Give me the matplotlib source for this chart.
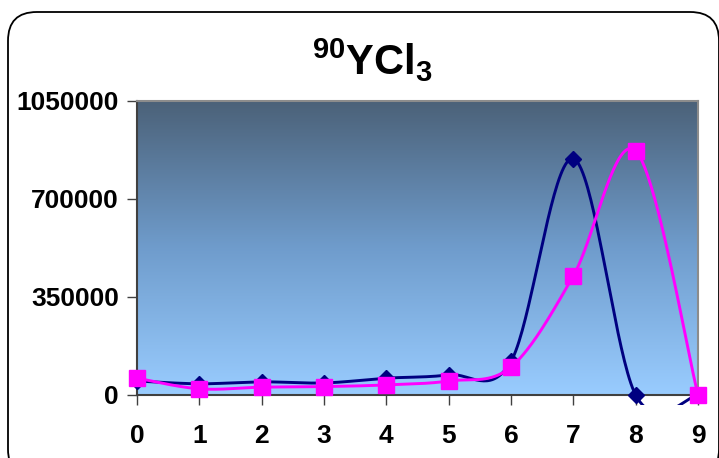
import numpy as np
import matplotlib
matplotlib.use("Agg")
import matplotlib.pyplot as plt
from matplotlib.patches import FancyBboxPatch, Rectangle
from matplotlib.colors import LinearSegmentedColormap

plt.rcParams['font.family'] = ['Liberation Sans', 'DejaVu Sans']
plt.rcParams['mathtext.fontset'] = 'custom'
plt.rcParams['mathtext.rm'] = 'Liberation Sans:bold'
plt.rcParams['mathtext.bf'] = 'Liberation Sans:bold'

# data
fractions = [0, 1, 2, 3, 4, 5, 6, 7, 8, 9]
series_navy = [50000, 40000, 47000, 43000, 60000, 72000, 120000, 843000, 0, 0]
series_magenta = [60000, 22000, 28000, 30000, 36000, 50000, 100000, 425000, 871000, 0]
y_ticks = [0, 350000, 700000, 1050000]


def smooth(x, y, n=40):
    # Excel-style smoothed line: cubic bezier with catmull-rom tangents
    x = np.asarray(x, float)
    y = np.asarray(y, float)
    xs, ys = [], []
    for i in range(len(x) - 1):
        p0 = np.array([x[max(i - 1, 0)], y[max(i - 1, 0)]])
        p1 = np.array([x[i], y[i]])
        p2 = np.array([x[i + 1], y[i + 1]])
        p3 = np.array([x[min(i + 2, len(x) - 1)], y[min(i + 2, len(x) - 1)]])
        c1 = p1 + (p2 - p0) / 6
        c2 = p2 - (p3 - p1) / 6
        t = np.linspace(0, 1, n)[:, None]
        pts = ((1 - t) ** 3) * p1 + 3 * ((1 - t) ** 2) * t * c1 + 3 * (1 - t) * t ** 2 * c2 + t ** 3 * p2
        xs.extend(pts[:, 0])
        ys.extend(pts[:, 1])
    return np.array(xs), np.array(ys)


fig = plt.figure(figsize=(7.19, 4.58), dpi=100)
W, H = 719, 458

# rounded chart frame
frame = FancyBboxPatch((8 / W, -20 / H), 711 / W, 458 / H + 20 / H - 12 / H,
                       boxstyle="round,pad=0,rounding_size=0.04",
                       transform=fig.transFigure, facecolor='white',
                       edgecolor='black', linewidth=1.3, mutation_aspect=W / H,
                       zorder=-5)
fig.add_artist(frame)

ax = fig.add_axes([137 / W, 1 - 395 / H, (698 - 137) / W, (395 - 100.7) / H])
ax.set_zorder(2)

cmap = LinearSegmentedColormap.from_list('bg', ['#4b6178', '#6f9ccc', '#99ccff'])
grad = np.linspace(0, 1, 256)[:, None]
ax.imshow(grad, aspect='auto', cmap=cmap, extent=[0, 9, 0, 1050000],
          origin='upper', zorder=0)
ax.set_xlim(0, 9)
ax.set_ylim(0, 1050000)

# lines may spill a little below the axis, like in the original
clip = Rectangle((-0.05, -0.035), 1.1, 1.1, transform=ax.transAxes,
                 facecolor='none', edgecolor='none')
ax.add_patch(clip)

sx, sy = smooth(fractions, series_navy)
l1, = ax.plot(sx, sy, color='#000080', lw=2.1, zorder=3)
l1.set_clip_path(clip)
ax.plot(fractions, series_navy, ls='none', marker='D', ms=8.5, color='#000080',
        zorder=4, clip_on=False)

sx, sy = smooth(fractions, series_magenta)
l2, = ax.plot(sx, sy, color='#ff00ff', lw=2.1, zorder=5)
l2.set_clip_path(clip)
ax.plot(fractions, series_magenta, ls='none', marker='s', ms=11, color='#ff00ff',
        zorder=6, clip_on=False)

ax.set_xticks(fractions)
ax.set_yticks(y_ticks)
ax.set_yticklabels([str(v) for v in y_ticks])
ax.tick_params(axis='both', direction='out', length=7, width=1, color='#404040',
               labelsize=19, pad=6)
ax.tick_params(axis='x', pad=14)
for lab in ax.get_xticklabels() + ax.get_yticklabels():
    lab.set_fontweight('bold')

for side in ['left', 'bottom']:
    ax.spines[side].set_color('#404040')
    ax.spines[side].set_linewidth(1.5)
for side in ['top', 'right']:
    ax.spines[side].set_color('#8c8c8c')
    ax.spines[side].set_linewidth(1.5)

fig.text(373 / W, 1 - 60 / H, r'$\mathbf{^{90}YCl_3}$', fontsize=30,
         ha='center', va='center')

fig.savefig('out.png', dpi=100)
